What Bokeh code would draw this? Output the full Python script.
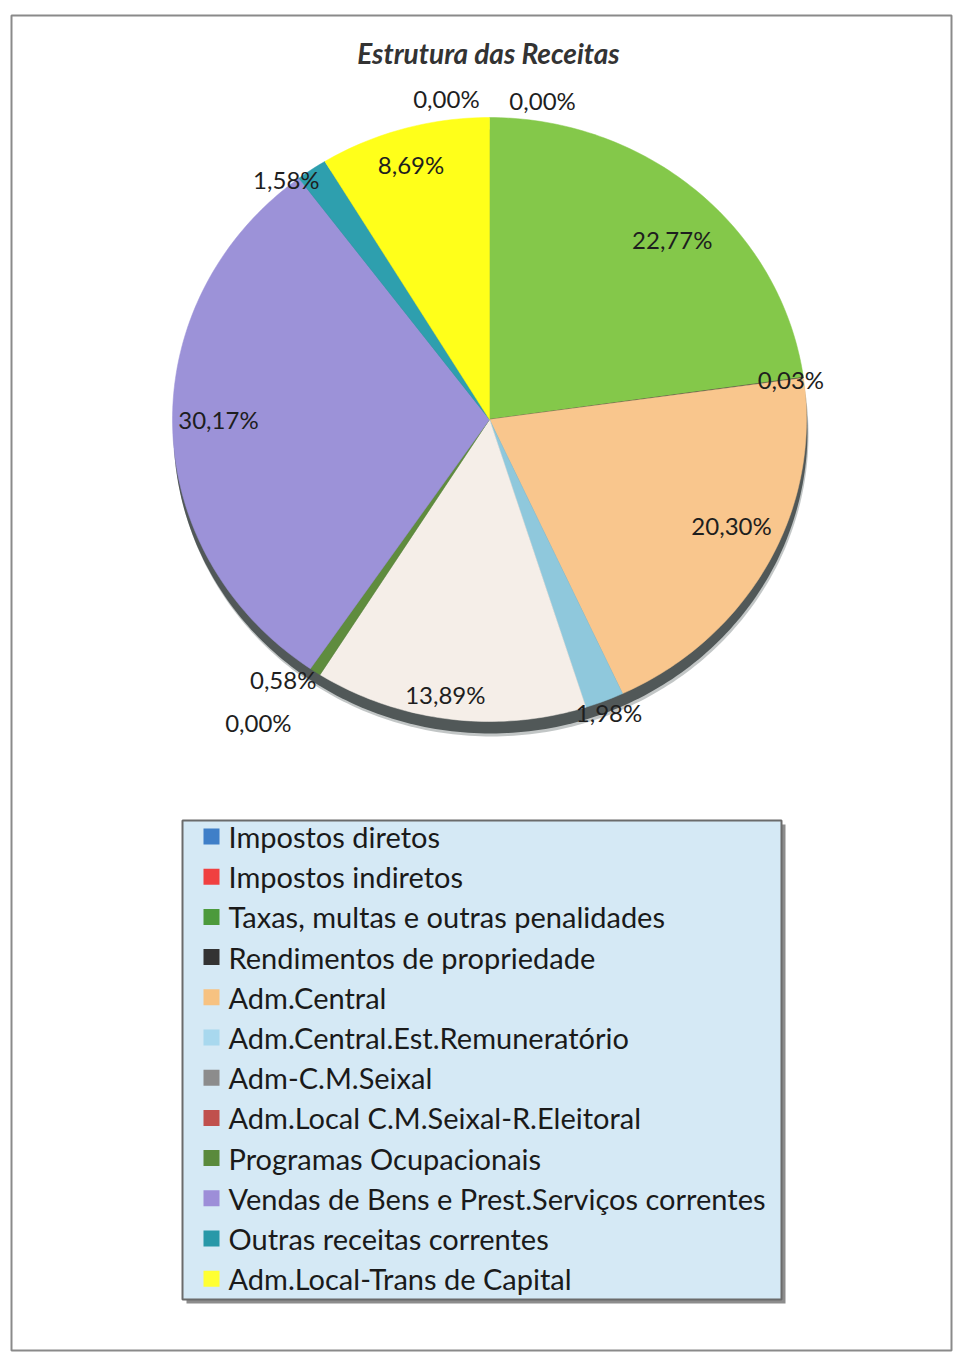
import math
from bokeh.plotting import figure
from bokeh.models import Range1d
from bokeh.core.properties import value
from bokeh.embed import file_html
from bokeh.resources import INLINE

# ---------------- data ----------------
title = "Estrutura das Receitas"
categories = [
    "Impostos diretos",
    "Impostos indiretos",
    "Taxas, multas e outras penalidades",
    "Rendimentos de propriedade",
    "Adm.Central",
    "Adm.Central.Est.Remuneratório",
    "Adm-C.M.Seixal",
    "Adm.Local C.M.Seixal-R.Eleitoral",
    "Programas Ocupacionais",
    "Vendas de Bens e Prest.Serviços correntes",
    "Outras receitas correntes",
    "Adm.Local-Trans de Capital",
]
shares = [0.00, 0.00, 22.77, 0.03, 20.30, 1.98, 13.89, 0.00, 0.58, 30.17, 1.58, 8.69]
slice_colors = ["#4a7ebb", "#e84040", "#84c84a", "#3a3a3a", "#f9c68d", "#8fc8dc",
                "#f5eee8", "#c0504d", "#5f8c3e", "#9c92d8", "#2e9fae", "#ffff1a"]
legend_colors = ["#3f7fc8", "#f04040", "#4c9a3c", "#333333", "#f7c281", "#a8d8ee",
                 "#8c8c8c", "#c0504d", "#5a8a3c", "#9d8ed8", "#2898a8", "#ffff33"]

# ---------------- layout (styles) ----------------
label_k = [1.07, 1.07, 0.83, 0.96, 0.84, 1.04, 0.92, 1.24, 1.08, 0.855, 1.02, 0.88]
label_shift = [-7.3, 9.0, 3.0, 0.0, -4.0, 0.0, 1.4, 3.7, 3.7, 1.3, -4.8, -0.7]

W, H = 953, 1357
def X(x):
    return x
def Y(y):
    return H - y

p = figure(width=W, height=H, x_range=Range1d(0, W), y_range=Range1d(0, H),
           output_backend="svg", toolbar_location=None, min_border=0)
p.axis.visible = False
p.grid.visible = False
p.outline_line_color = None
p.background_fill_color = "white"
p.border_fill_color = "white"

# outer frame
p.quad(left=[X(11)], right=[X(951)], top=[Y(15)], bottom=[Y(1350)],
       fill_color=None, line_color="#8a8a8a", line_width=2)

# title
p.text(x=[X(488)], y=[Y(52)], text=[title], text_font=value("Lato"),
       text_font_style="bold italic", text_font_size="28px", text_color="#333333",
       text_align="center", text_baseline="middle")

# pie geometry
cx, cy = X(489), Y(419)
rx, ry = 317, 302
total = sum(shares)

def ellipse_arc(a0, a1, ocx, ocy):
    n = max(2, int((a1 - a0) / (2 * math.pi) * 360))
    xs, ys = [ocx], [ocy]
    for i in range(n + 1):
        a = a0 + (a1 - a0) * i / n
        xs.append(ocx + rx * math.sin(a))
        ys.append(ocy + ry * math.cos(a))
    return xs, ys

# shadow (3D effect)
sx, sy = ellipse_arc(0, 2 * math.pi, cx + 2, cy - 15)
p.patch(sx[1:], sy[1:], fill_color="#9aa0a0", line_color=None, fill_alpha=0.6)
sx, sy = ellipse_arc(0, 2 * math.pi, cx + 1, cy - 12)
p.patch(sx[1:], sy[1:], fill_color="#515858", line_color=None)

xs_all, ys_all, cols = [], [], []
cum = 0.0
mids = []
for v, c in zip(shares, slice_colors):
    a0 = cum / total * 2 * math.pi
    a1 = (cum + v) / total * 2 * math.pi
    mids.append((a0 + a1) / 2)
    if v > 0:
        xs, ys = ellipse_arc(a0, a1, cx, cy)
        xs_all.append(xs)
        ys_all.append(ys)
        cols.append(c)
    cum += v
p.patches(xs_all, ys_all, fill_color=cols, line_color=cols, line_width=0.5)

# data labels
lx, ly, lt = [], [], []
for v, m, k, s in zip(shares, mids, label_k, label_shift):
    a = m + math.radians(s)
    lx.append(cx + k * rx * math.sin(a))
    ly.append(cy + k * ry * math.cos(a))
    lt.append(f"{v:.2f}%".replace(".", ","))
p.text(x=lx, y=ly, text=lt, text_font=value("Lato"), text_font_size="24px",
       text_color="#1e1e1e", text_align="center", text_baseline="middle")

# legend box
p.quad(left=[X(186)], right=[X(785)], top=[Y(824)], bottom=[Y(1303)],
       fill_color="#8c8c8c", line_color=None)
p.quad(left=[X(182)], right=[X(781)], top=[Y(820)], bottom=[Y(1299)],
       fill_color="#d5e9f5", line_color="#6b6b6b", line_width=2)

row_y = [Y(836 + i * 40.2) for i in range(len(categories))]
p.scatter(x=[X(211)] * len(categories), y=row_y, marker="square", size=16,
          fill_color=legend_colors, line_color=None)
p.text(x=[X(228)] * len(categories), y=row_y, text=categories,
       text_font=value("Lato"), text_font_size="29px", text_color="#1a1a1a",
       text_align="left", text_baseline="middle")

open("out.html", "w").write(file_html(p, INLINE))
